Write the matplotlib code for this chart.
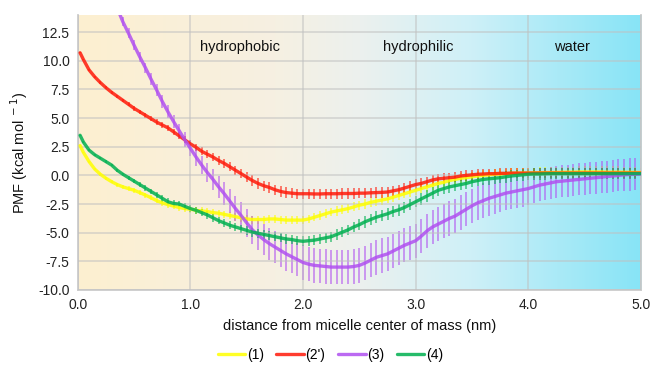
import numpy as np
import matplotlib
matplotlib.use("Agg")
import matplotlib.pyplot as plt
from matplotlib.colors import LinearSegmentedColormap

plt.rcParams['font.family'] = ['Liberation Sans', 'DejaVu Sans']

nan = np.nan
# x grid: 0.02 then 0.05 .. 5.00 in 0.05 steps (rows of 10 = 0.5 nm each)
distance = np.round(np.concatenate([[0.02], np.arange(0.05, 5.001, 0.05)]), 2)

pmf_1 = [
    2.6, 2.0, 1.2, 0.55, 0.1, -0.25, -0.55, -0.8, -1.0, -1.15,
    -1.3, -1.5, -1.72, -1.95, -2.2, -2.4, -2.55, -2.68, -2.8, -2.9,
    -2.95, -3.05, -3.1, -3.15, -3.25, -3.3, -3.4, -3.5, -3.6, -3.7,
    -3.8, -3.85, -3.85, -3.85, -3.8, -3.8, -3.85, -3.9, -3.9, -3.9,
    -3.9, -3.8, -3.65, -3.5, -3.35, -3.2, -3.1, -3.0, -2.9, -2.75,
    -2.6, -2.5, -2.35, -2.25, -2.15, -2.05, -1.9, -1.75, -1.6, -1.45,
    -1.3, -1.15, -1.0, -0.85, -0.7, -0.6, -0.45, -0.35, -0.25, -0.2,
    -0.12, -0.05, 0.0, 0.05, 0.1, 0.12, 0.15, 0.18, 0.2, 0.2,
    0.22, 0.22, 0.24, 0.25, 0.25, 0.26, 0.27, 0.28, 0.28, 0.3,
    0.3, 0.3, 0.3, 0.3, 0.28, 0.28, 0.28, 0.27, 0.27, 0.26,
    0.25]
err_1 = [
    0.05, 0.06, 0.08, 0.1, 0.12, 0.14, 0.15, 0.17, 0.18, 0.2,
    0.2, 0.22, 0.22, 0.24, 0.25, 0.25, 0.26, 0.27, 0.28, 0.3,
    0.3, 0.3, 0.3, 0.32, 0.32, 0.32, 0.33, 0.33, 0.34, 0.35,
    0.35, 0.35, 0.35, 0.35, 0.35, 0.35, 0.35, 0.35, 0.35, 0.35,
    0.35, 0.36, 0.37, 0.38, 0.38, 0.38, 0.4, 0.4, 0.4, 0.4,
    0.4, 0.4, 0.4, 0.4, 0.4, 0.4, 0.4, 0.4, 0.4, 0.4,
    0.4, 0.4, 0.42, 0.42, 0.42, 0.44, 0.44, 0.44, 0.45, 0.45,
    0.45, 0.45, 0.45, 0.45, 0.45, 0.45, 0.45, 0.45, 0.45, 0.45,
    0.45, 0.45, 0.45, 0.45, 0.47, 0.47, 0.47, 0.48, 0.48, 0.48,
    0.5, 0.5, 0.5, 0.5, 0.5, 0.5, 0.5, 0.5, 0.5, 0.5,
    0.5]

pmf_2p = [
    10.7, 10.1, 9.2, 8.6, 8.1, 7.65, 7.25, 6.9, 6.55, 6.2,
    5.85, 5.55, 5.25, 4.95, 4.65, 4.4, 4.15, 3.8, 3.45, 3.1,
    2.75, 2.45, 2.1, 1.85, 1.6, 1.3, 1.05, 0.75, 0.45, 0.15,
    -0.15, -0.45, -0.7, -0.9, -1.05, -1.25, -1.4, -1.5, -1.55, -1.6,
    -1.6, -1.6, -1.62, -1.62, -1.6, -1.6, -1.6, -1.58, -1.58, -1.58,
    -1.55, -1.55, -1.52, -1.5, -1.48, -1.45, -1.35, -1.25, -1.1, -0.95,
    -0.8, -0.7, -0.55, -0.4, -0.3, -0.25, -0.2, -0.15, -0.05, 0.0,
    0.05, 0.1, 0.12, 0.15, 0.15, 0.18, 0.18, 0.2, 0.2, 0.2,
    0.2, 0.2, 0.2, 0.2, 0.2, 0.2, 0.2, 0.2, 0.2, 0.2,
    0.2, 0.2, 0.2, 0.2, 0.2, 0.2, 0.2, 0.2, 0.2, 0.2,
    0.2]
err_2p = [
    0.03, 0.05, 0.08, 0.1, 0.1, 0.12, 0.12, 0.15, 0.15, 0.18,
    0.2, 0.2, 0.22, 0.22, 0.25, 0.25, 0.28, 0.28, 0.3, 0.3,
    0.32, 0.33, 0.34, 0.35, 0.36, 0.37, 0.38, 0.4, 0.4, 0.42,
    0.45, 0.45, 0.45, 0.45, 0.45, 0.45, 0.45, 0.45, 0.45, 0.45,
    0.45, 0.45, 0.45, 0.45, 0.45, 0.45, 0.45, 0.45, 0.45, 0.45,
    0.45, 0.45, 0.45, 0.45, 0.45, 0.45, 0.45, 0.45, 0.45, 0.45,
    0.45, 0.45, 0.45, 0.45, 0.45, 0.45, 0.45, 0.45, 0.45, 0.45,
    0.45, 0.45, 0.45, 0.45, 0.45, 0.45, 0.45, 0.45, 0.45, 0.45,
    0.45, 0.45, 0.45, 0.45, 0.45, 0.45, 0.45, 0.45, 0.45, 0.45,
    0.45, 0.45, 0.45, 0.45, 0.45, 0.45, 0.45, 0.45, 0.45, 0.45,
    0.45]

pmf_3 = [
    nan, nan, nan, nan, nan, nan, nan, 14.6, 13.4, 12.4,
    11.35, 10.35, 9.4, 8.4, 7.45, 6.45, 5.55, 4.7, 3.9, 3.1,
    2.35, 1.6, 0.9, 0.25, -0.35, -1.0, -1.6, -2.25, -2.9, -3.5,
    -4.15, -4.75, -5.2, -5.6, -5.95, -6.25, -6.55, -6.85, -7.1, -7.35,
    -7.6, -7.75, -7.85, -7.9, -7.95, -8.0, -8.0, -8.0, -8.0, -7.95,
    -7.85, -7.65, -7.4, -7.15, -7.0, -6.85, -6.6, -6.35, -6.1, -5.9,
    -5.7, -5.3, -4.85, -4.5, -4.25, -4.0, -3.75, -3.55, -3.25, -2.95,
    -2.65, -2.4, -2.2, -2.0, -1.85, -1.7, -1.55, -1.45, -1.35, -1.25,
    -1.15, -1.0, -0.85, -0.75, -0.65, -0.55, -0.5, -0.45, -0.4, -0.35,
    -0.3, -0.25, -0.2, -0.15, -0.1, -0.05, 0.0, 0.05, 0.08, 0.1,
    0.12]
err_3 = [
    nan, nan, nan, nan, nan, nan, nan, 0.4, 0.4, 0.42,
    0.45, 0.45, 0.45, 0.5, 0.5, 0.55, 0.55, 0.6, 0.6, 0.65,
    0.7, 0.75, 0.8, 0.85, 0.9, 0.95, 1.0, 1.05, 1.1, 1.15,
    1.2, 1.25, 1.3, 1.35, 1.4, 1.4, 1.45, 1.45, 1.45, 1.45,
    1.5, 1.5, 1.5, 1.5, 1.5, 1.5, 1.5, 1.5, 1.5, 1.5,
    1.5, 1.5, 1.5, 1.5, 1.5, 1.5, 1.5, 1.5, 1.5, 1.5,
    1.5, 1.5, 1.5, 1.5, 1.5, 1.5, 1.5, 1.5, 1.5, 1.5,
    1.5, 1.5, 1.5, 1.5, 1.5, 1.5, 1.5, 1.5, 1.5, 1.5,
    1.4, 1.4, 1.4, 1.4, 1.4, 1.4, 1.4, 1.4, 1.4, 1.4,
    1.4, 1.4, 1.4, 1.4, 1.4, 1.4, 1.4, 1.4, 1.4, 1.4,
    1.4]

pmf_4 = [
    3.5, 2.9, 2.2, 1.8, 1.5, 1.2, 0.9, 0.45, 0.1, -0.2,
    -0.5, -0.8, -1.1, -1.4, -1.7, -2.0, -2.3, -2.45, -2.5, -2.7,
    -2.9, -3.05, -3.25, -3.45, -3.7, -3.95, -4.15, -4.35, -4.5, -4.65,
    -4.8, -4.95, -5.05, -5.15, -5.25, -5.35, -5.45, -5.55, -5.6, -5.7,
    -5.75, -5.7, -5.65, -5.55, -5.45, -5.35, -5.15, -4.95, -4.75, -4.5,
    -4.3, -4.05, -3.85, -3.65, -3.5, -3.35, -3.15, -3.0, -2.8, -2.55,
    -2.3, -2.05, -1.8, -1.55, -1.3, -1.15, -1.0, -0.9, -0.8, -0.7,
    -0.55, -0.45, -0.35, -0.3, -0.25, -0.2, -0.12, -0.05, 0.0, 0.05,
    0.1, 0.12, 0.12, 0.14, 0.15, 0.15, 0.15, 0.15, 0.15, 0.15,
    0.15, 0.15, 0.15, 0.15, 0.15, 0.15, 0.15, 0.15, 0.15, 0.15,
    0.15]
err_4 = [
    0.05, 0.06, 0.08, 0.1, 0.1, 0.12, 0.12, 0.14, 0.15, 0.18,
    0.2, 0.2, 0.22, 0.25, 0.25, 0.28, 0.3, 0.3, 0.3, 0.3,
    0.3, 0.3, 0.32, 0.32, 0.33, 0.33, 0.34, 0.34, 0.35, 0.35,
    0.4, 0.4, 0.4, 0.4, 0.4, 0.4, 0.4, 0.4, 0.4, 0.4,
    0.45, 0.45, 0.45, 0.45, 0.45, 0.45, 0.45, 0.45, 0.45, 0.45,
    0.5, 0.5, 0.5, 0.5, 0.5, 0.5, 0.5, 0.5, 0.5, 0.5,
    0.5, 0.5, 0.5, 0.5, 0.5, 0.5, 0.5, 0.5, 0.5, 0.5,
    0.5, 0.5, 0.5, 0.5, 0.5, 0.5, 0.5, 0.5, 0.5, 0.5,
    0.5, 0.5, 0.5, 0.5, 0.5, 0.5, 0.5, 0.5, 0.5, 0.5,
    0.5, 0.5, 0.5, 0.5, 0.5, 0.5, 0.5, 0.5, 0.5, 0.5,
    0.5]

series_labels = ["(1)", "(2')", "(3)", "(4)"]
series_colors = ["#FFFF00", "#FF1A0A", "#B050F0", "#00B050"]
region_labels = ["hydrophobic", "hydrophilic", "water"]
region_label_x = [1.44, 3.02, 4.39]

fig = plt.figure(figsize=(6.54, 3.65), dpi=100)
ax = fig.add_axes([0.119, 0.2055, 0.861, 0.7535])

ax.set_xlim(0, 5)
ax.set_ylim(-10, 14)

# background gradient
grad_cmap = LinearSegmentedColormap.from_list("bg", [
    (0.0, (253/255, 239/255, 208/255)),
    (0.35, (246/255, 240/255, 226/255)),
    (0.5, (236/255, 241/255, 238/255)),
    (0.7, (206/255, 240/255, 248/255)),
    (1.0, (135/255, 228/255, 246/255))])
ax.imshow(np.linspace(0, 1, 256)[None, :], extent=[0, 5, -10, 14], aspect='auto',
          cmap=grad_cmap, zorder=0, interpolation='bilinear')

ax.grid(True, color="#c0c0c0", alpha=0.55, linewidth=1.3, zorder=1)
ax.set_axisbelow(False)

series = [(pmf_1, err_1), (pmf_2p, err_2p), (pmf_3, err_3), (pmf_4, err_4)]
for (vals, errs), lab, col in zip(series, series_labels, series_colors):
    v = np.array(vals, dtype=float)
    e = np.array(errs, dtype=float)
    ax.errorbar(distance, v, yerr=e, fmt='none', ecolor=col, elinewidth=1.3,
                alpha=0.6, capsize=0, zorder=2)
    ax.plot(distance, v, color=col, linewidth=2.4, alpha=0.85, label=lab, zorder=3,
            solid_capstyle='round')

for txt, xx in zip(region_labels, region_label_x):
    ax.text(xx, 11.2, txt, ha='center', va='center', fontsize=10.5, color='#111111', zorder=4)

ax.set_xticks([0, 1, 2, 3, 4, 5])
ax.set_xticklabels([f"{t:.1f}" for t in [0, 1, 2, 3, 4, 5]])
yt = [-10, -7.5, -5, -2.5, 0, 2.5, 5, 7.5, 10, 12.5]
ax.set_yticks(yt)
ax.set_yticklabels([f"{t:.1f}" for t in yt])
ax.tick_params(length=0, labelsize=10, colors='#222222', pad=6)

for s in ['top']:
    ax.spines[s].set_visible(False)
for s in ['left', 'bottom', 'right']:
    ax.spines[s].set_color('#cccccc')
    ax.spines[s].set_linewidth(1.3)

ax.set_xlabel("distance from micelle center of mass (nm)", fontsize=10.5, color='#111111', labelpad=5)
ax.set_ylabel("PMF (kcal mol$^{\\ -1}$)", fontsize=10.5, color='#111111', labelpad=6)

handles, labels = ax.get_legend_handles_labels()
fig.legend(handles, labels, loc='lower center', bbox_to_anchor=(0.505, -0.025), ncol=4,
           frameon=False, fontsize=10, handlelength=2.0, handletextpad=0.1,
           columnspacing=0.9)

fig.savefig("out.png", dpi=100)
